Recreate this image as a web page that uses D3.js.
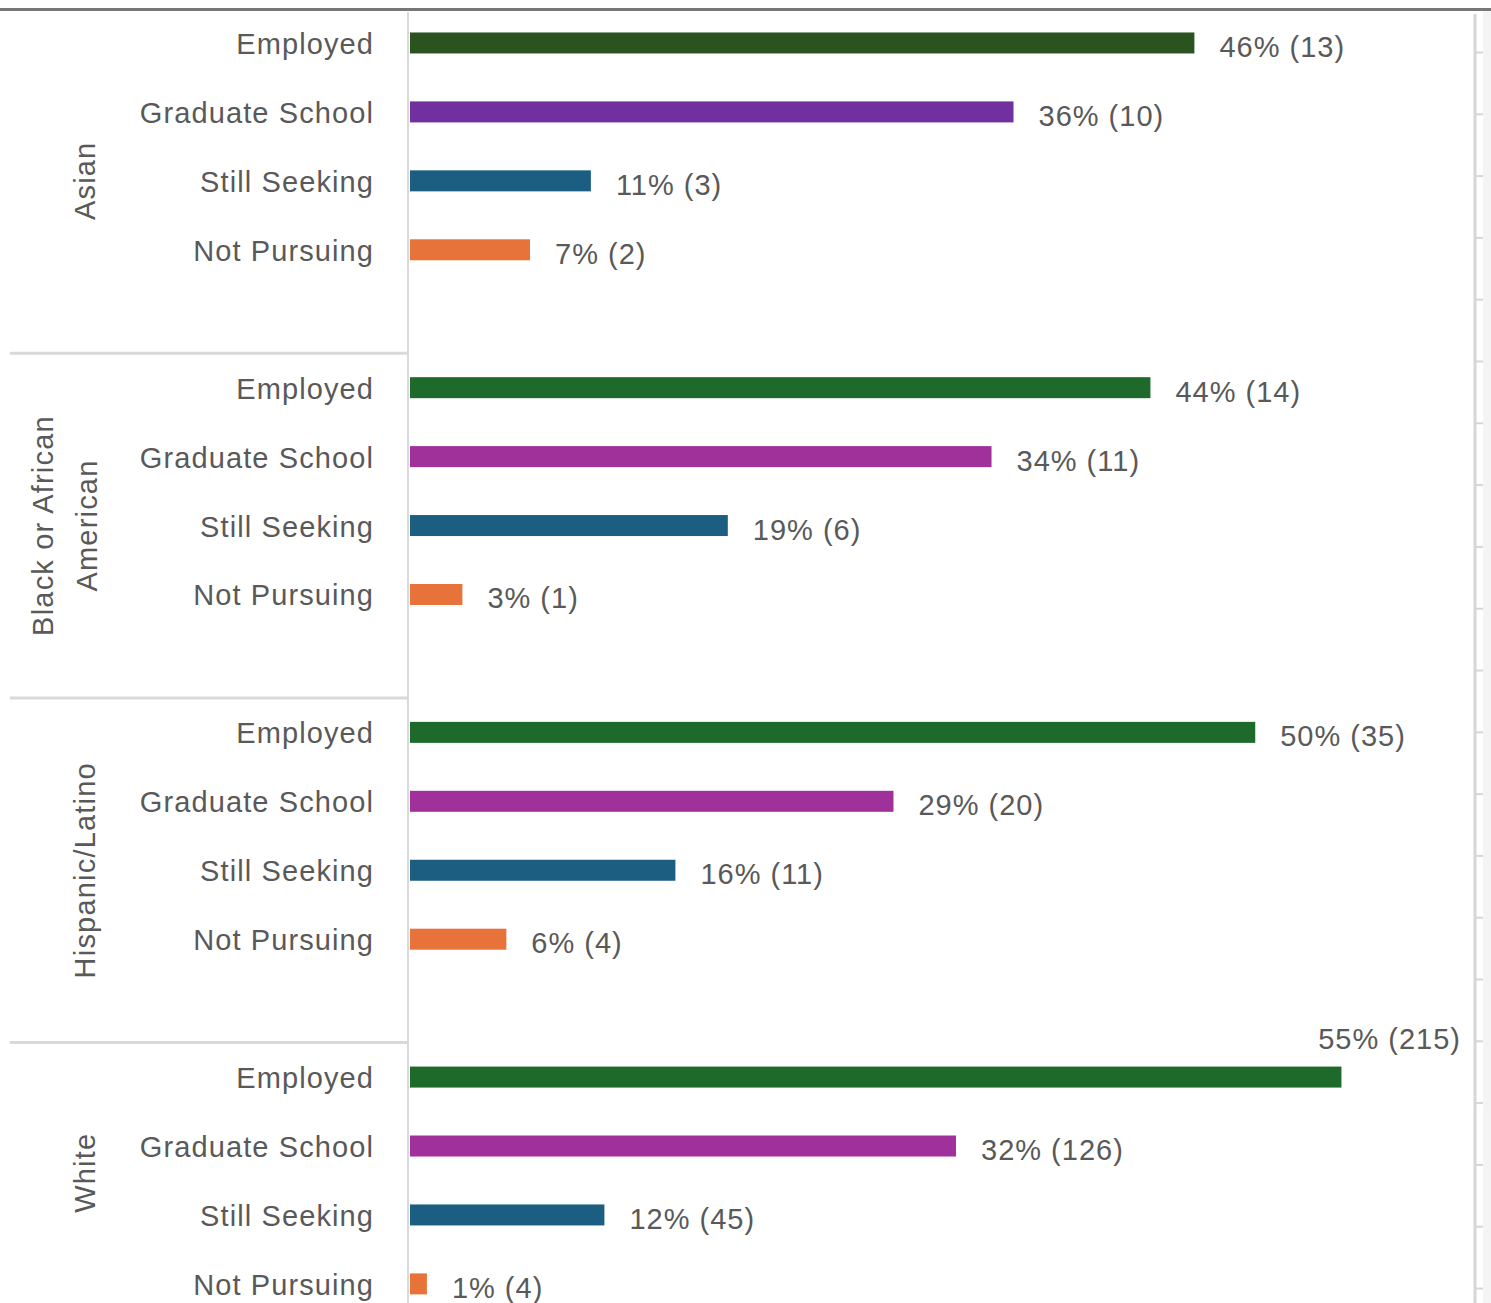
<!DOCTYPE html>
<html>
<head>
<meta charset="utf-8">
<script src="https://cdn.jsdelivr.net/npm/d3@7"></script>
<style>
  body { margin: 0; background: #fff; }
  svg { display: block; font-family: "Liberation Sans", Arial, sans-serif; }
</style>
</head>
<body>
<div class="chart"></div>
<script>
// groups and outcome categories
var groups = ["Asian", "Black or African American", "Hispanic/Latino", "White"];
var groupLines = [["Asian"], ["Black or African", "American"], ["Hispanic/Latino"], ["White"]];
var outcomes = ["Employed", "Graduate School", "Still Seeking", "Not Pursuing"];

// share of graduates (%) per group
var asianPct    = [46.4, 35.7, 10.7, 7.1];
var blackPct    = [43.8, 34.4, 18.8, 3.1];
var hispanicPct = [50.0, 28.6, 15.7, 5.7];
var whitePct    = [55.1, 32.3, 11.5, 1.0];

// labels as printed
var asianLbl    = ["46% (13)", "36% (10)", "11% (3)", "7% (2)"];
var blackLbl    = ["44% (14)", "34% (11)", "19% (6)", "3% (1)"];
var hispanicLbl = ["50% (35)", "29% (20)", "16% (11)", "6% (4)"];
var whiteLbl    = ["55% (215)", "32% (126)", "12% (45)", "1% (4)"];

var pctByGroup = [asianPct, blackPct, hispanicPct, whitePct];
var lblByGroup = [asianLbl, blackLbl, hispanicLbl, whiteLbl];

var colors = [
    ["#2b5320", "#7030a0", "#1b5e82", "#e8733a"],
    ["#1e6a2b", "#a0309a", "#1b5e82", "#e8733a"],
    ["#1e6a2b", "#a0309a", "#1b5e82", "#e8733a"],
    ["#1e6a2b", "#a0309a", "#1b5e82", "#e8733a"]
];

var width = 1491, height = 1303;

var svg = d3.select(".chart").append("svg")
    .attr("width", width)
    .attr("height", height);

// each group gets 4 rows + 1 empty spacer slot
var slots = [];
groups.forEach(function (g, gi) {
    outcomes.concat(["_gap"]).forEach(function (o) {
        slots.push(gi + "|" + o);
    });
});

var y = d3.scaleBand()
    .domain(slots)
    .range([8.5, 1387.3]);

var x = d3.scaleLinear()
    .domain([0, 63])
    .range([410, 1475]);

var barH = 21;

// flat rows
var rows = [];
groups.forEach(function (g, gi) {
    outcomes.forEach(function (o, oi) {
        rows.push({
            group: gi,
            outcome: o,
            value: pctByGroup[gi][oi],
            label: lblByGroup[gi][oi],
            color: colors[gi][oi],
            key: gi + "|" + o
        });
    });
});

// right-side faint strip + ruler
svg.append("rect")
    .attr("x", 1483).attr("y", 11)
    .attr("width", width - 1483).attr("height", height - 11)
    .attr("fill", "#f4f4f4");

var ruler = d3.scaleLinear().domain([0, 20]).range([52, 52 + 20 * 61.8]);
var rulerAxis = svg.append("g")
    .attr("transform", "translate(1475,0)")
    .call(d3.axisRight(ruler).tickValues(d3.range(0, 21)).tickSize(8).tickFormat(""));
rulerAxis.select(".domain").remove();
rulerAxis.selectAll("line").attr("stroke", "#d6d6d6").attr("stroke-width", 2);
svg.append("line")
    .attr("x1", 1475).attr("x2", 1475)
    .attr("y1", 14).attr("y2", height)
    .attr("stroke", "#d6d6d6").attr("stroke-width", 3);

// top border
svg.append("line")
    .attr("x1", 0).attr("x2", width)
    .attr("y1", 9.5).attr("y2", 9.5)
    .attr("stroke", "#777").attr("stroke-width", 3);

// category axis line
svg.append("line")
    .attr("x1", 408).attr("x2", 408)
    .attr("y1", 12).attr("y2", height)
    .attr("stroke", "#d9d9d9").attr("stroke-width", 2);

// group separators
svg.selectAll(".sep")
    .data(groups.slice(1))
    .enter().append("line")
    .attr("class", "sep")
    .attr("x1", 10).attr("x2", 408)
    .attr("y1", function (d, i) { return y((i + 1) + "|Employed"); })
    .attr("y2", function (d, i) { return y((i + 1) + "|Employed"); })
    .attr("stroke", "#d9d9d9").attr("stroke-width", 3);

// bars
svg.selectAll(".bar")
    .data(rows)
    .enter().append("rect")
    .attr("class", "bar")
    .attr("x", x(0))
    .attr("y", function (d) { return y(d.key) + y.bandwidth() / 2 - barH / 2; })
    .attr("width", function (d) { return x(d.value) - x(0); })
    .attr("height", barH)
    .attr("fill", function (d) { return d.color; });

// category labels
svg.selectAll(".cat")
    .data(rows)
    .enter().append("text")
    .attr("class", "cat")
    .attr("x", 374)
    .attr("y", function (d) { return y(d.key) + y.bandwidth() / 2 + 1; })
    .attr("dominant-baseline", "central")
    .attr("text-anchor", "end")
    .attr("font-size", 29)
    .attr("letter-spacing", 1.1)
    .attr("fill", "#595959")
    .text(function (d) { return d.outcome; });

// value labels, pushed above the bar if it would run off the plot
svg.selectAll(".val")
    .data(rows)
    .enter().append("text")
    .attr("class", "val")
    .attr("font-size", 29)
    .attr("letter-spacing", 1)
    .attr("fill", "#595959")
    .attr("dominant-baseline", "central")
    .each(function (d) {
        var t = d3.select(this).text(d.label);
        var cy = y(d.key) + y.bandwidth() / 2;
        var w = this.getComputedTextLength();
        if (x(d.value) + 25 + w > 1470) {
            t.attr("x", 1461).attr("y", cy - 38).attr("text-anchor", "end");
        } else {
            t.attr("x", x(d.value) + 25).attr("y", cy + 4);
        }
    });

// group labels (rotated)
groupLines.forEach(function (lines, gi) {
    var top = y(gi + "|Employed");
    var bottom = Math.min(y(gi + "|_gap") + y.bandwidth(), height);
    var cy = (top + bottom) / 2;
    var g = svg.append("g")
        .attr("transform", "translate(" + (lines.length > 1 ? 65 : 85) + "," + cy + ") rotate(-90)");
    lines.forEach(function (l, li) {
        g.append("text")
            .attr("x", 0)
            .attr("y", (li - (lines.length - 1) / 2) * 44)
            .attr("dominant-baseline", "central")
            .attr("text-anchor", "middle")
            .attr("font-size", 29)
            .attr("letter-spacing", 1.2)
            .attr("fill", "#595959")
            .text(l);
    });
});
</script>
</body>
</html>
